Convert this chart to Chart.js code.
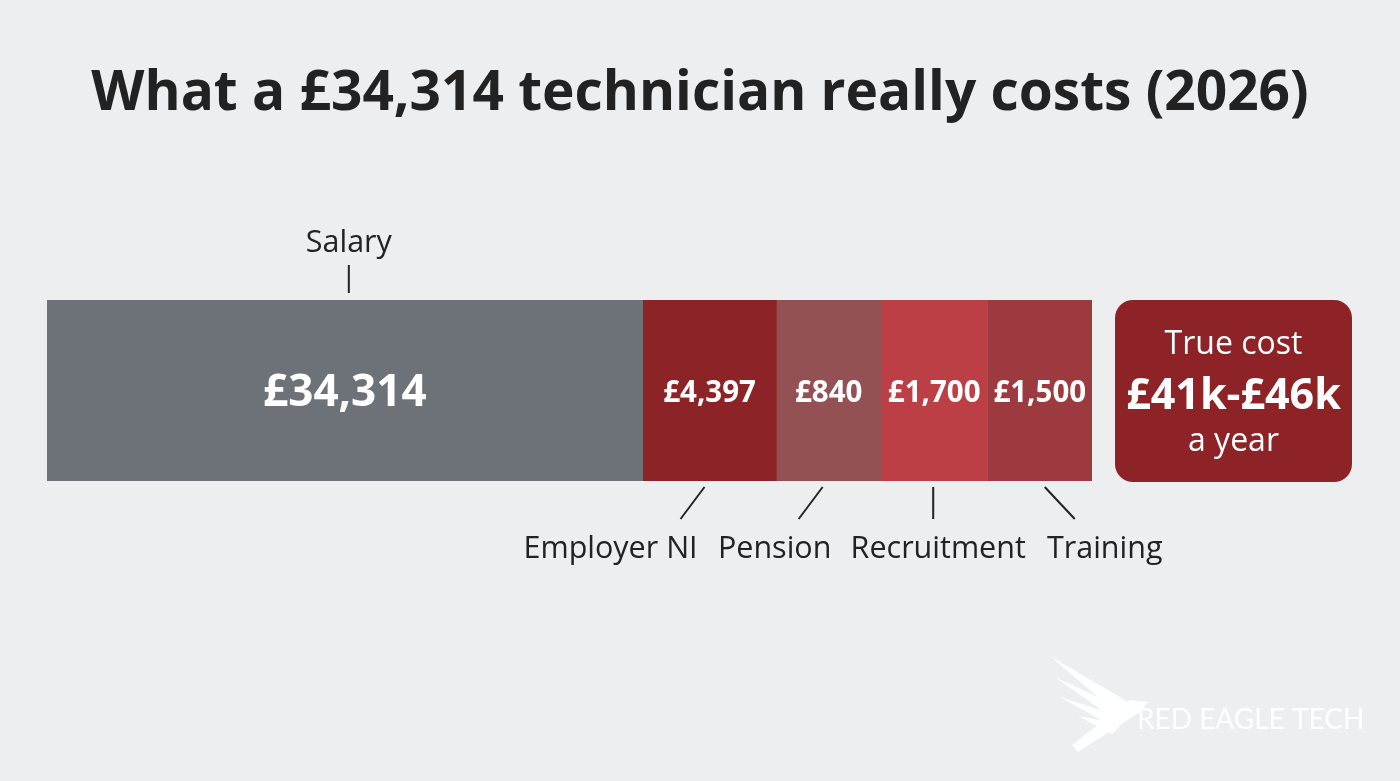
<!DOCTYPE html>
<html>
<head>
<meta charset="utf-8">
<script src="https://cdn.jsdelivr.net/npm/chart.js@4.4.1/dist/chart.umd.min.js"></script>
<style>
  html, body { margin: 0; padding: 0; background: #eceef0; }
  canvas { display: block; }
</style>
</head>
<body>
<canvas id="costChart" width="1400" height="781"></canvas>
<script>
// Cost components of one technician, 2026
const categories = ['Salary', 'Employer NI', 'Pension', 'Recruitment', 'Training'];
const costValues = [34314, 4397, 840, 1700, 1500];
// length each segment is drawn with in the picture (not to scale, share of the bar)
const drawnShare = [57.0, 12.8, 10.0, 10.2, 10.0];
const trueCostLines = ['True cost', '£41k-£46k', 'a year'];
const chartTitle = 'What a £34,314 technician really costs (2026)';

const segmentColors = ['#6d7178', '#8c2427', '#935154', '#bc3f45', '#9d3a3f'];
const boxColor = '#8d2326';

// where each callout label sits relative to the segment centre
const callouts = [
    { side: 'top', labelDx: 4, topDx: 4, botDx: 4 },
    { side: 'bottom', labelDx: -99, topDx: -5, botDx: -29 },
    { side: 'bottom', labelDx: -54, topDx: -6, botDx: -30 },
    { side: 'bottom', labelDx: 4, topDx: -1, botDx: -1 },
    { side: 'bottom', labelDx: 65, topDx: 5, botDx: 35 }
];

function money(v) {
    return '£' + v.toLocaleString('en-GB');
}

var labelPlugin = {
    id: 'labelPlugin',
    afterDatasetsDraw: function(chart) {
        var ctx = chart.ctx;
        ctx.save();
        ctx.textAlign = 'center';
        ctx.textBaseline = 'middle';

        // title
        ctx.fillStyle = '#222222';
        ctx.font = 'bold 55px "Open Sans"';
        ctx.fillText(chartTitle, 700, 94);

        var top = chart.chartArea.top, bottom = chart.chartArea.bottom;
        var barEnd = 0;
        categories.forEach(function(name, i) {
            var el = chart.getDatasetMeta(i).data[0];
            var cx = (el.x + el.base) / 2;
            barEnd = Math.max(barEnd, el.x);
            // value inside the segment
            ctx.fillStyle = '#ffffff';
            ctx.font = i === 0 ? 'bold 44px "Open Sans"' : 'bold 29.5px "Open Sans"';
            ctx.fillText(money(costValues[i]), cx, el.y + 3);

            // callout line and label
            var c = callouts[i];
            ctx.strokeStyle = '#222222';
            ctx.lineWidth = 2;
            ctx.beginPath();
            if (c.side === 'top') {
                ctx.moveTo(cx + c.topDx, top - 35);
                ctx.lineTo(cx + c.botDx, top - 7);
            } else {
                ctx.moveTo(cx + c.topDx, bottom + 6);
                ctx.lineTo(cx + c.botDx, bottom + 38);
            }
            ctx.stroke();
            ctx.fillStyle = '#222222';
            ctx.font = '30.5px "Open Sans"';
            var ly = c.side === 'top' ? top - 57 : bottom + 68;
            ctx.fillText(name, cx + c.labelDx, ly);
        });

        // true cost box next to the bar
        var bx = barEnd + 23, bw = 237, by = top, bh = bottom - top + 1;
        ctx.fillStyle = boxColor;
        ctx.beginPath();
        ctx.roundRect(bx, by, bw, bh, 18);
        ctx.fill();
        ctx.fillStyle = '#ffffff';
        ctx.font = '32px "Open Sans"';
        ctx.fillText(trueCostLines[0], bx + bw / 2, by + 45);
        ctx.font = 'bold 43px "Open Sans"';
        ctx.fillText(trueCostLines[1], bx + bw / 2, by + 97);
        ctx.font = '32px "Open Sans"';
        ctx.fillText(trueCostLines[2], bx + bw / 2, by + 142);

        // logo
        ctx.fillStyle = 'rgba(255,255,255,0.95)';
        var wing = [
            [[1050, 656], [1135, 706], [1120, 716]],
            [[1055, 677], [1130, 712], [1118, 722]],
            [[1060, 697], [1126, 718], [1115, 728]],
            [[1078, 716], [1122, 724], [1112, 734]]
        ];
        wing.forEach(function(p) {
            ctx.beginPath();
            ctx.moveTo(p[0][0], p[0][1]);
            ctx.lineTo(p[1][0], p[1][1]);
            ctx.lineTo(p[2][0], p[2][1]);
            ctx.closePath();
            ctx.fill();
        });
        ctx.beginPath();
        ctx.moveTo(1130, 700);
        ctx.lineTo(1148, 702);
        ctx.lineTo(1140, 712);
        ctx.lineTo(1078, 752);
        ctx.lineTo(1072, 745);
        ctx.closePath();
        ctx.fill();
        ctx.textAlign = 'left';
        ctx.font = '28px Lato';
        ctx.fillText('RED EAGLE TECH', 1137, 720);
        ctx.restore();
    }
};

var ctx = document.getElementById('costChart').getContext('2d');

new Chart(ctx, {
    type: 'bar',
    data: {
        labels: ['Cost'],
        datasets: categories.map(function(name, i) {
            return {
                label: name,
                data: [drawnShare[i]],
                backgroundColor: segmentColors[i],
                borderWidth: 0,
                barPercentage: 1,
                categoryPercentage: 1
            };
        })
    },
    options: {
        indexAxis: 'y',
        responsive: false,
        animation: false,
        layout: {
            padding: { left: 47, right: 308, top: 300, bottom: 300 }
        },
        plugins: {
            legend: { display: false },
            tooltip: { enabled: false }
        },
        scales: {
            x: { stacked: true, min: 0, max: 100, display: false },
            y: { stacked: true, display: false }
        }
    },
    plugins: [labelPlugin]
});
</script>
</body>
</html>
